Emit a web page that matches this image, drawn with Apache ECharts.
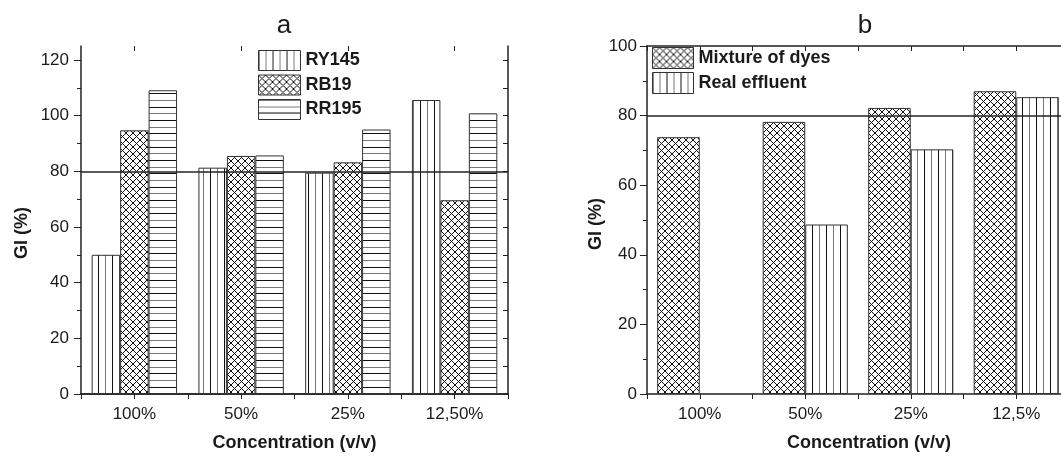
<!DOCTYPE html>
<html>
<head>
<meta charset="utf-8">
<script src="https://cdn.jsdelivr.net/npm/echarts@6/dist/echarts.min.js"></script>
<style>
html,body{margin:0;padding:0;background:#fff;overflow:hidden;width:1061px;height:457px;}
#chart{width:1080px;height:457px;}
</style>
</head>
<body>
<div id="chart"></div>
<script>
// ---------- data ----------
const categoriesA = ['100%', '50%', '25%', '12,50%'];
const ry145 = [50.0, 81.3, 79.5, 105.6];
const rb19 = [94.7, 85.5, 83.2, 69.6];
const rr195 = [109.1, 85.7, 95.0, 100.8];
const thresholdA = 80;
const yTicksA = [0, 20, 40, 60, 80, 100, 120];
const yMinorTicksA = [10, 30, 50, 70, 90, 110];
const yAllTicksA = [0, 10, 20, 30, 40, 50, 60, 70, 80, 90, 100, 110, 120];

const categoriesB = ['100%', '50%', '25%', '12,5%'];
const mixture = [73.8, 78.2, 82.2, 87.0];
const realEffluent = [null, 48.7, 70.3, 85.3];
const thresholdB = 80;

// ---------- patterns ----------
function vPattern() {
  const c = document.createElement('canvas');
  c.width = 14; c.height = 14;
  const g = c.getContext('2d');
  g.fillStyle = '#fff'; g.fillRect(0, 0, 14, 14);
  g.fillStyle = '#111'; g.fillRect(0, 0, 1, 14);
  g.fillStyle = '#777'; g.fillRect(7, 0, 1, 14);
  return { image: c, repeat: 'repeat' };
}
function hPattern() {
  const c = document.createElement('canvas');
  c.width = 14; c.height = 40;
  const g = c.getContext('2d');
  g.fillStyle = '#fff'; g.fillRect(0, 0, 14, 40);
  const ys = [0, 7, 13, 20, 27, 33];
  ys.forEach((y, i) => { g.fillStyle = i % 2 ? '#777' : '#111'; g.fillRect(0, y, 14, 1); });
  return { image: c, repeat: 'repeat' };
}
function xPattern() {
  const s = 14, step = 7;
  const c = document.createElement('canvas');
  c.width = s; c.height = s;
  const g = c.getContext('2d');
  g.fillStyle = '#fff'; g.fillRect(0, 0, s, s);
  g.strokeStyle = '#111'; g.lineWidth = 1;
  g.beginPath();
  for (let o = -2 * s; o <= 3 * s; o += step) {
    g.moveTo(o - 4, -4); g.lineTo(o + s + 4, s + 4);
    g.moveTo(o + 4, -4); g.lineTo(o - s - 4, s + 4);
  }
  g.stroke();
  return { image: c, repeat: 'repeat' };
}

const FONT = "'Liberation Sans', Arial, sans-serif";
const INK = '#1a1a1a';
const AX = { lineStyle: { color: '#222', width: 1.5 } };

function xAxes(gridIndex, cats) {
  const base = { type: 'category', data: cats, gridIndex: gridIndex, boundaryGap: true };
  return [
    Object.assign({}, base, {
      position: 'bottom',
      axisLine: AX,
      axisTick: { show: true, length: 5, inside: false, lineStyle: { color: '#222', width: 1 } },
      axisLabel: { fontFamily: FONT, fontSize: 17, color: INK, margin: 12 },
      name: 'Concentration (v/v)', nameLocation: 'middle', nameGap: 40,
      nameTextStyle: { fontFamily: FONT, fontSize: 18, fontWeight: 'bold', color: INK,
        padding: gridIndex === 1 ? [0, 0, 0, 22] : 0 }
    }),
    Object.assign({}, base, {
      position: 'bottom', axisLine: { show: false },
      axisTick: { show: true, alignWithLabel: true, length: 5, lineStyle: { color: '#222', width: 1 } },
      axisLabel: { show: false }
    }),
    Object.assign({}, base, {
      position: 'top', axisLine: AX,
      axisTick: { show: true, inside: true, length: 5, lineStyle: { color: '#222', width: 1 } },
      axisLabel: { show: false }
    }),
    Object.assign({}, base, {
      position: 'top', axisLine: { show: false },
      axisTick: { show: true, inside: true, alignWithLabel: true, length: 5, lineStyle: { color: '#222', width: 1 } },
      axisLabel: { show: false }
    })
  ];
}

const yName = (gap, pad) => ({
  name: 'GI (%)', nameLocation: 'middle', nameGap: gap, nameRotate: 90,
  nameTextStyle: { fontFamily: FONT, fontSize: 18, fontWeight: 'bold', color: INK, padding: pad }
});

const yAxes = [
  Object.assign({
    type: 'value', gridIndex: 0, position: 'left', min: 0, max: 125,
    axisLine: Object.assign({ show: true }, AX),
    axisTick: { show: true, length: 7, customValues: yTicksA, lineStyle: { color: '#222', width: 1 } },
    axisLabel: { fontFamily: FONT, fontSize: 17, color: INK, margin: 12, customValues: yTicksA },
    splitLine: { show: false }
  }, yName(50, [0, 26, 0, 0])),
  {
    type: 'value', gridIndex: 0, position: 'left', min: 0, max: 125,
    axisLine: { show: false },
    axisTick: { show: true, length: 4, customValues: yMinorTicksA, lineStyle: { color: '#222', width: 1 } },
    axisLabel: { show: false }, splitLine: { show: false }
  },
  {
    type: 'value', gridIndex: 0, position: 'right', min: 0, max: 125,
    axisLine: Object.assign({ show: true }, AX),
    axisTick: { show: true, inside: true, length: 5, customValues: yAllTicksA, lineStyle: { color: '#222', width: 1 } },
    axisLabel: { show: false }, splitLine: { show: false }
  },
  Object.assign({
    type: 'value', gridIndex: 1, position: 'left', min: 0, max: 100, interval: 20,
    axisLine: Object.assign({ show: true }, AX),
    axisTick: { show: true, length: 7, lineStyle: { color: '#222', width: 1 } },
    minorTick: { show: true, splitNumber: 2, length: 4, lineStyle: { color: '#222', width: 1 } },
    axisLabel: { fontFamily: FONT, fontSize: 17, color: INK, margin: 10 },
    splitLine: { show: false }
  }, yName(42, [0, 8, 0, 0])),
  {
    type: 'value', gridIndex: 1, position: 'right', min: 0, max: 100, interval: 20,
    axisLine: Object.assign({ show: true }, AX),
    axisTick: { show: true, inside: true, length: 5, lineStyle: { color: '#222', width: 1 } },
    axisLabel: { show: false }, splitLine: { show: false }
  }
];

const barBase = (name, data, xi, yi, color, gap) => ({
  name: name, type: 'bar', data: data, xAxisIndex: xi, yAxisIndex: yi,
  barGap: '0%', barCategoryGap: gap,
  itemStyle: { color: color, borderColor: '#333', borderWidth: 1 }
});

const markLine = (v) => ({
  silent: true, symbol: ['none', 'none'], label: { show: false },
  lineStyle: { color: '#222', width: 1.5, type: 'solid' },
  data: [{ yAxis: v }]
});

const s1 = barBase('RY145', ry145, 0, 0, vPattern(), '20%');
const s2 = barBase('RB19', rb19, 0, 0, xPattern(), '20%');
const s3 = barBase('RR195', rr195, 0, 0, hPattern(), '20%');
s3.markLine = markLine(thresholdA);
const s4 = barBase('Mixture of dyes', mixture, 4, 3, xPattern(), '19.3%');
const s5 = barBase('Real effluent', realEffluent, 4, 3, vPattern(), '19.3%');
s5.markLine = markLine(thresholdB);

const legendText = { fontFamily: FONT, fontSize: 18, fontWeight: 'bold', color: INK };

const option = {
  animation: false,
  backgroundColor: '#fff',
  title: [
    { text: 'a', left: 279, top: 8, textAlign: 'center',
      textStyle: { fontFamily: FONT, fontSize: 26, fontWeight: 'normal', color: INK } },
    { text: 'b', left: 860, top: 8, textAlign: 'center',
      textStyle: { fontFamily: FONT, fontSize: 26, fontWeight: 'normal', color: INK } }
  ],
  legend: [
    { data: ['RY145', 'RB19', 'RR195'], orient: 'vertical', left: 258, top: 50, padding: 0,
      itemWidth: 42, itemHeight: 20, itemGap: 3.5, icon: 'rect', textStyle: legendText,
      itemStyle: { borderColor: '#333', borderWidth: 1 }, selectedMode: false },
    { data: ['Mixture of dyes', 'Real effluent'], orient: 'vertical', left: 652, top: 47, padding: 0,
      itemWidth: 41, itemHeight: 21, itemGap: 3, icon: 'rect', textStyle: legendText,
      itemStyle: { borderColor: '#333', borderWidth: 1 }, selectedMode: false }
  ],
  grid: [
    { left: 81, top: 46, width: 427, height: 351, containLabel: false },
    { left: 647, top: 46, width: 422, height: 351, containLabel: false }
  ],
  xAxis: xAxes(0, categoriesA).concat(xAxes(1, categoriesB)),
  yAxis: yAxes,
  series: [s1, s2, s3, s4, s5]
};

const chart = echarts.init(document.getElementById('chart'), null, { renderer: 'canvas' });
chart.setOption(option);
</script>
</body>
</html>
